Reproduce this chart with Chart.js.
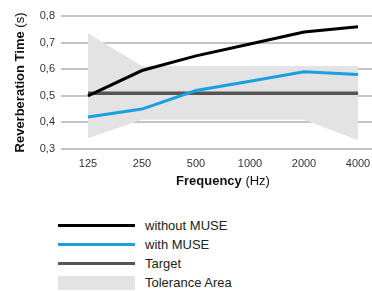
<!DOCTYPE html>
<html>
<head>
<meta charset="utf-8">
<script src="https://cdn.jsdelivr.net/npm/chart.js@4"></script>
<style>
  html, body { margin: 0; padding: 0; background: #fff; overflow: hidden; width: 372px; height: 291px; }
  #wrap { position: relative; width: 390px; height: 200px; }
  #legend { position: absolute; left: 58px; top: 216px; font-family: "Liberation Sans", Arial, sans-serif; font-size: 13px; color: #222; }
  .row { display: flex; align-items: center; height: 19px; }
  .swatch { width: 77px; margin-right: 10px; }
</style>
</head>
<body>
<div id="wrap"><canvas id="myChart" width="390" height="200"></canvas></div>
<div id="legend"></div>
<script>
const frequencies = ["125", "250", "500", "1000", "2000", "4000"];
const withoutMuse = [0.50, 0.595, 0.65, 0.695, 0.74, 0.76];
const withMuse = [0.42, 0.45, 0.52, 0.555, 0.59, 0.58];
const target = [0.51, 0.51, 0.51, 0.51, 0.51, 0.51];
const toleranceUpper = [0.735, 0.612, 0.612, 0.612, 0.612, 0.612];
const toleranceLower = [0.34, 0.41, 0.41, 0.41, 0.41, 0.333];

const font = "Liberation Sans, Arial, sans-serif";

// axis titles with a bold part and a regular part
const axisTitles = {
  id: "axisTitles",
  afterDraw(chart) {
    const ctx = chart.ctx;
    const area = chart.chartArea;
    function mixed(bold, plain, x, y) {
      ctx.font = "bold 13px " + font;
      const w1 = ctx.measureText(bold + " ").width;
      ctx.font = "13px " + font;
      const w2 = ctx.measureText(plain).width;
      const start = x - (w1 + w2) / 2;
      ctx.textAlign = "left";
      ctx.textBaseline = "middle";
      ctx.fillStyle = "#111";
      ctx.font = "bold 13px " + font;
      ctx.fillText(bold, start, y);
      ctx.font = "13px " + font;
      ctx.fillText(plain, start + w1, y);
    }
    ctx.save();
    mixed("Frequency", "(Hz)", (area.left + area.right) / 2, 181);
    ctx.translate(20, (area.top + area.bottom) / 2);
    ctx.rotate(-Math.PI / 2);
    mixed("Reverberation Time", "(s)", 0, 0);
    ctx.restore();
  }
};

const ctx = document.getElementById("myChart").getContext("2d");
const chart = new Chart(ctx, {
  type: "line",
  data: {
    labels: frequencies,
    datasets: [
      {
        label: "without MUSE",
        data: withoutMuse,
        borderColor: "#000000",
        borderWidth: 3,
        order: 1,
      },
      {
        label: "with MUSE",
        data: withMuse,
        borderColor: "#1a9fe0",
        borderWidth: 3,
        order: 2,
      },
      {
        label: "Target",
        data: target,
        borderColor: "#555555",
        borderWidth: 3.5,
        order: 3,
      },
      {
        label: "Tolerance Area",
        data: toleranceUpper,
        borderWidth: 0,
        borderColor: "rgba(0,0,0,0)",
        backgroundColor: "#e3e3e3",
        fill: 4,
        order: 4,
      },
      {
        label: "lower",
        data: toleranceLower,
        borderWidth: 0,
        borderColor: "rgba(0,0,0,0)",
        fill: false,
        order: 5,
      },
    ],
  },
  options: {
    responsive: false,
    animation: false,
    elements: { point: { radius: 0 }, line: { tension: 0 } },
    layout: { padding: { top: 16, right: 5, left: 0, bottom: 0 } },
    plugins: { legend: { display: false }, tooltip: { enabled: false } },
    scales: {
      x: {
        offset: true,
        grid: { display: false, drawTicks: false },
        border: { display: false },
        ticks: { color: "#333", font: { family: font, size: 11 }, padding: 8, maxRotation: 0 },
        afterFit: (s) => { s.height = 51; },
      },
      y: {
        min: 0.3,
        max: 0.8,
        grid: { color: "#c4c4c4", lineWidth: 2, drawTicks: false },
        border: { display: false },
        ticks: {
          stepSize: 0.1,
          color: "#333",
          font: { family: font, size: 11 },
          padding: 6,
          callback: (v) => v.toFixed(1).replace(".", ","),
        },
        afterFit: (s) => { s.width = 61; },
      },
    },
  },
  plugins: [axisTitles],
});

// legend as a single column under the chart
const legend = document.getElementById("legend");
chart.data.datasets.slice(0, 4).forEach((ds) => {
  const row = document.createElement("div");
  row.className = "row";
  const sw = document.createElement("div");
  sw.className = "swatch";
  if (ds.label === "Tolerance Area") {
    sw.style.height = "14px";
    sw.style.background = ds.backgroundColor;
  } else {
    sw.style.height = ds.borderWidth + "px";
    sw.style.background = ds.borderColor;
  }
  const txt = document.createElement("span");
  txt.textContent = ds.label;
  row.appendChild(sw);
  row.appendChild(txt);
  legend.appendChild(row);
});
</script>
</body>
</html>
